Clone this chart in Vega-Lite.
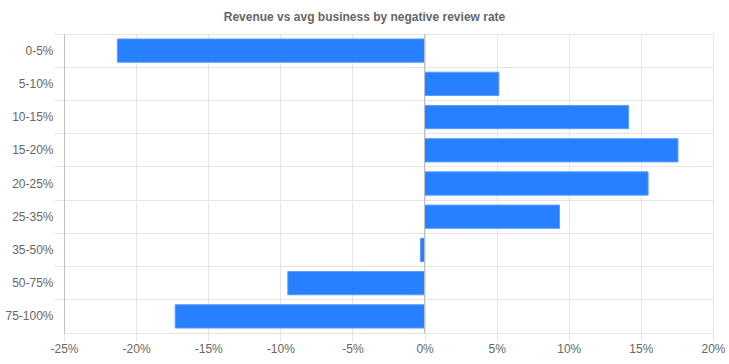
{
  "$schema": "https://vega.github.io/schema/vega-lite/v6.json",
  "width": 649,
  "height": 299,
  "autosize": {"type": "none"},
  "padding": {"left": 64, "top": 34, "right": 16, "bottom": 31},
  "background": "white",
  "config": {
    "view": {"stroke": null},
    "font": "Liberation Sans",
    "axis": {"labelFont": "Liberation Sans", "labelFontSize": 12, "labelColor": "#666666", "gridColor": "#e5e5e5", "tickColor": "#e5e5e5", "domainColor": "#bfbfbf"}
  },
  "title": {
    "text": "Revenue vs avg business by negative review rate",
    "font": "Liberation Sans",
    "fontSize": 12,
    "fontWeight": "bold",
    "color": "#666666",
    "anchor": "middle",
    "dx": -24,
    "offset": 10
  },
  "data": {
    "values": [
      {"bucket": "0-5%", "value": -21.3},
      {"bucket": "5-10%", "value": 5.15},
      {"bucket": "10-15%", "value": 14.15},
      {"bucket": "15-20%", "value": 17.57},
      {"bucket": "20-25%", "value": 15.5},
      {"bucket": "25-35%", "value": 9.36},
      {"bucket": "35-50%", "value": -0.28},
      {"bucket": "50-75%", "value": -9.48},
      {"bucket": "75-100%", "value": -17.29}
    ]
  },
  "layer": [
    {
      "mark": {"type": "bar", "height": {"band": 0.7}, "color": "#2680ff", "stroke": "#5a9cff", "strokeWidth": 1},
      "encoding": {
        "y": {
          "field": "bucket",
          "type": "nominal",
          "sort": null,
          "scale": {"paddingInner": 0, "paddingOuter": 0},
          "axis": {"title": null, "bandPosition": 0, "grid": true, "tickSize": 10, "labelPadding": 1, "domainColor": "#bfbfbf"}
        },
        "x": {
          "field": "value",
          "type": "quantitative",
          "scale": {"domain": [-25, 20], "nice": false, "zero": false},
          "axis": {"title": null, "values": [-25, -20, -15, -10, -5, 0, 5, 10, 15, 20], "labelExpr": "datum.value + '%'", "labelFlush": false, "labelOverlap": false, "grid": true, "tickSize": 8, "labelPadding": 2, "domainColor": "#e5e5e5"}
        }
      }
    },
    {
      "data": {"values": [{"z": 0}]},
      "mark": {"type": "rule", "color": "#bfbfbf", "strokeWidth": 1},
      "encoding": {"x": {"field": "z", "type": "quantitative"}}
    }
  ]
}
